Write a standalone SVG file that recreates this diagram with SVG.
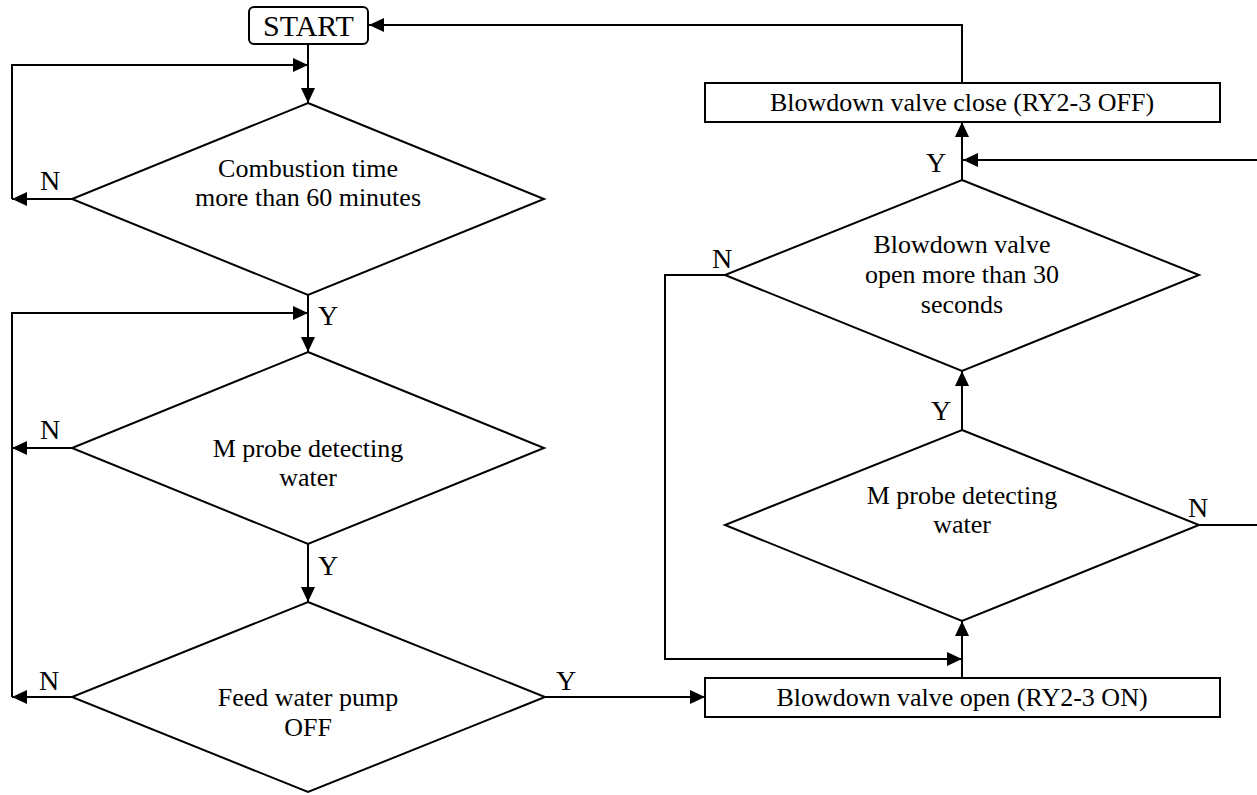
<svg xmlns="http://www.w3.org/2000/svg" width="1257" height="795" viewBox="0 0 1257 795">
<style>
.shape{fill:#fff;stroke:#000;stroke-width:2}
.ln{fill:none;stroke:#000;stroke-width:2}
.t{font-family:"Liberation Serif","Times New Roman",serif;font-size:26px;fill:#000;text-anchor:middle}
.lb{font-family:"Liberation Serif","Times New Roman",serif;font-size:28px;fill:#000}
.st{font-family:"Liberation Serif","Times New Roman",serif;font-size:30px;fill:#000;text-anchor:middle}
</style>
<defs>
<marker id="ah" markerWidth="15" markerHeight="14" refX="15" refY="7" orient="auto" markerUnits="userSpaceOnUse">
<path d="M0,0 L15,7 L0,14 z" fill="#000"/>
</marker>
</defs>
<rect width="1257" height="795" fill="#fff"/>
<g id="connectors">
<path class="ln" d="M308,44 V103" marker-end="url(#ah)"/>
<path class="ln" d="M72,199 H12" marker-end="url(#ah)"/>
<path class="ln" d="M12,199 V65 H308" marker-end="url(#ah)"/>
<path class="ln" d="M308,295 V352" marker-end="url(#ah)"/>
<path class="ln" d="M12,697 V313 H308" marker-end="url(#ah)"/>
<path class="ln" d="M72,448 H12" marker-end="url(#ah)"/>
<path class="ln" d="M72,697 H12" marker-end="url(#ah)"/>
<path class="ln" d="M308,544 V602" marker-end="url(#ah)"/>
<path class="ln" d="M545,697 H705" marker-end="url(#ah)"/>
<path class="ln" d="M962,678 V621" marker-end="url(#ah)"/>
<path class="ln" d="M962,430 V371" marker-end="url(#ah)"/>
<path class="ln" d="M962,180 V122" marker-end="url(#ah)"/>
<path class="ln" d="M962,83 V25 H369" marker-end="url(#ah)"/>
<path class="ln" d="M725,275 H665 V659 H962" marker-end="url(#ah)"/>
<path class="ln" d="M1199,525 H1257"/>
<path class="ln" d="M1257,160 H963" marker-end="url(#ah)"/>
<text class="lb" x="40" y="190">N</text>
<text class="lb" x="318" y="325">Y</text>
<text class="lb" x="40" y="439">N</text>
<text class="lb" x="318" y="575">Y</text>
<text class="lb" x="39" y="690">N</text>
<text class="lb" x="556" y="690">Y</text>
<text class="lb" x="926" y="172">Y</text>
<text class="lb" x="712" y="268">N</text>
<text class="lb" x="931" y="420">Y</text>
<text class="lb" x="1188" y="517">N</text>
</g>
<g id="start">
<rect class="shape" x="249" y="7" width="119" height="37" rx="5"/>
<text class="st" x="308.5" y="36">START</text>
</g>
<g id="d1">
<polygon class="shape" points="308,103 544,199 308,295 72,199"/>
<text class="t" x="308" y="177">Combustion time</text>
<text class="t" x="308" y="206">more than 60 minutes</text>
</g>
<g id="d2">
<polygon class="shape" points="308,352 544,448 308,544 72,448"/>
<text class="t" x="308" y="457">M probe detecting</text>
<text class="t" x="308" y="486">water</text>
</g>
<g id="d3">
<polygon class="shape" points="308,602 545,697 308,792 72,697"/>
<text class="t" x="308" y="706">Feed water pump</text>
<text class="t" x="308" y="736">OFF</text>
</g>
<g id="open">
<rect class="shape" x="705" y="678" width="515" height="39"/>
<text class="t" x="962" y="706">Blowdown valve open (RY2-3 ON)</text>
</g>
<g id="d5">
<polygon class="shape" points="962,430 1199,525 962,621 725,525"/>
<text class="t" x="962" y="504">M probe detecting</text>
<text class="t" x="962" y="533">water</text>
</g>
<g id="d4">
<polygon class="shape" points="962,180 1199,275 962,371 725,275"/>
<text class="t" x="962" y="253">Blowdown valve</text>
<text class="t" x="962" y="283">open more than 30</text>
<text class="t" x="962" y="313">seconds</text>
</g>
<g id="close">
<rect class="shape" x="705" y="83" width="515" height="39"/>
<text class="t" x="962" y="111">Blowdown valve close (RY2-3 OFF)</text>
</g>
</svg>
